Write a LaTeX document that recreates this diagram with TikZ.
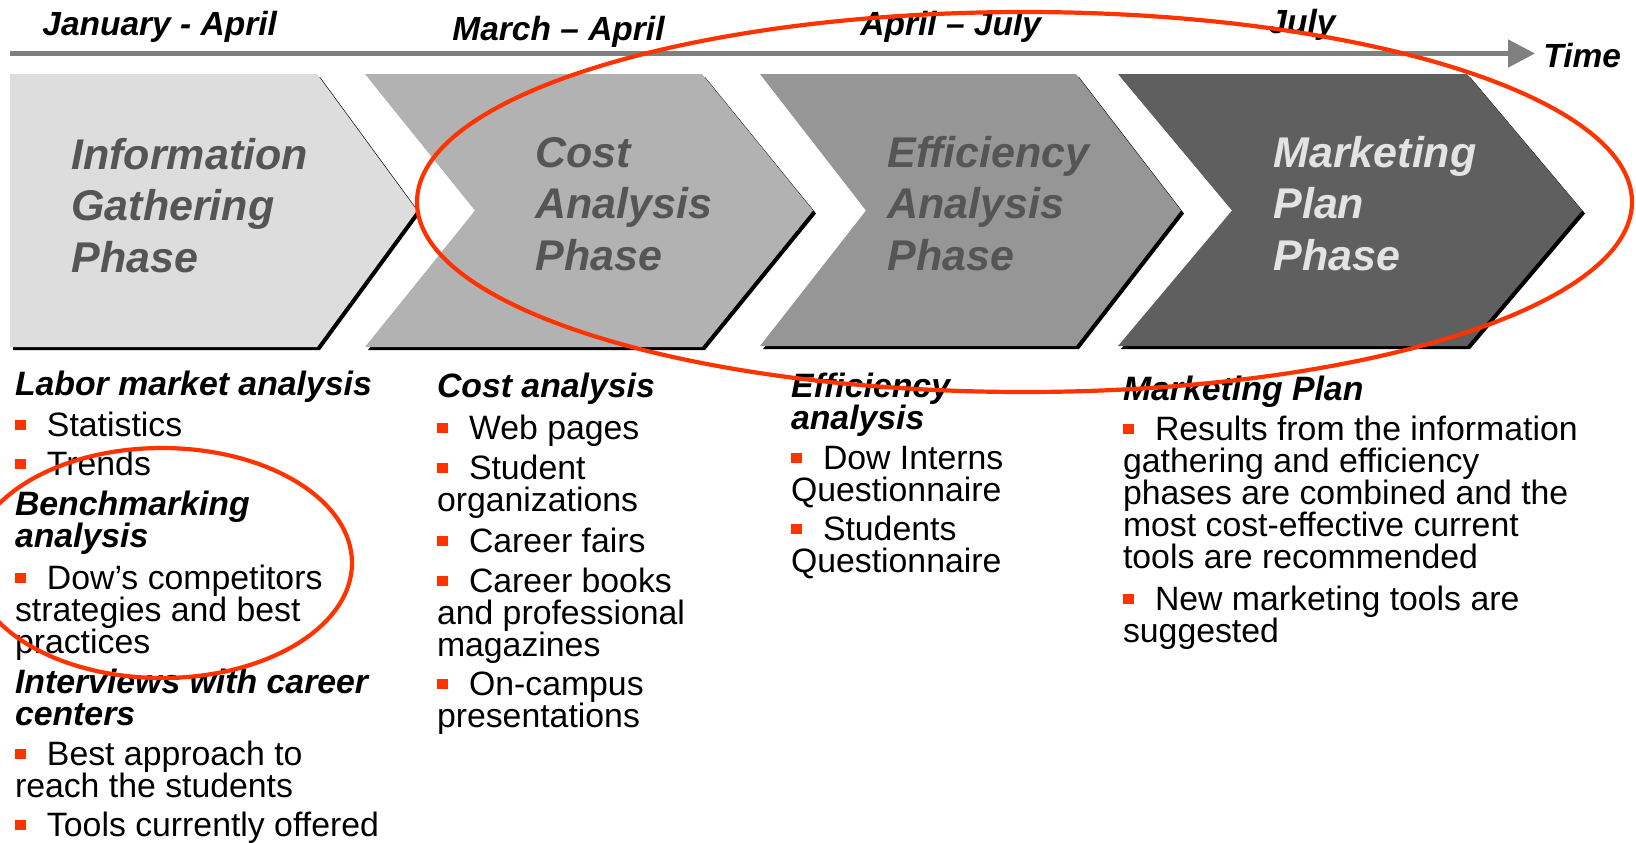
\documentclass[tikz,border=0pt]{standalone}
\usepackage{fontspec}
\setmainfont{Liberation Sans}
\usetikzlibrary{arrows.meta}
\definecolor{bred}{HTML}{FF3300}
\definecolor{tlgray}{HTML}{808080}
\definecolor{cA}{HTML}{DDDDDD}
\definecolor{cB}{HTML}{B2B2B2}
\definecolor{cC}{HTML}{969696}
\definecolor{cD}{HTML}{5F5F5F}
\definecolor{ptxt}{HTML}{555555}
\definecolor{ptxtl}{HTML}{E3E3E3}
\newcommand\bul{\makebox[16pt][l]{\textcolor{bred}{\rule[2.8pt]{5.3pt}{5.3pt}}}}
\newcommand\bodyfnt{\fontsize{16.9}{16}\selectfont}
\newcommand\txtlines[1]{\vtop{\let\\\cr\halign{##\hfil\cr#1\crcr}}}
\begin{document}
\begin{tikzpicture}[x=0.5pt,y=-0.5pt,
  bd/.style={anchor=base west,inner sep=0pt,outer sep=0pt,font=\bodyfnt,text=black},
  hd/.style={bd,font=\bodyfnt\bfseries\itshape},
  dt/.style={anchor=base west,inner sep=0pt,font=\fontsize{16.75}{20}\selectfont\bfseries\itshape},
  ph/.style={anchor=base west,inner sep=0pt,font=\fontsize{21.5}{25.75}\selectfont\bfseries\itshape,text=ptxt},
  shd/.style={fill=black,shift={(3,3)}},
  ring/.style={draw=bred,line width=2.1pt}]
\useasboundingbox (0,0) rectangle (1636,842);
\clip (0,0) rectangle (1636,842);
\fill[white] (0,0) rectangle (1636,842);

% timeline
\coordinate (tl0) at (10,53.5);
\coordinate (tl1) at (1535,53.5);
\draw[tlgray,line width=2.5pt,-{Triangle[length=13.5pt,width=13.5pt]}] (tl0) -- (tl1);

% chevron shadows
\fill[shd] (10,74) -- (317,74) -- (417,210.5) -- (317,347) -- (10,347) -- cycle;
\fill[shd] (365,74) -- (702,74) -- (813,210.5) -- (702,347) -- (365,347) -- (475,210.5) -- cycle;
\fill[shd] (760,74) -- (1076,74) -- (1181,210.5) -- (1076,346) -- (760,346) -- (866,210.5) -- cycle;
\fill[shd] (1118,74) -- (1467,74) -- (1582,210.5) -- (1467,346) -- (1118,346) -- (1232,210.5) -- cycle;
% chevrons
\fill[cA] (10,74) -- (317,74) -- (417,210.5) -- (317,347) -- (10,347) -- cycle;
\fill[cB] (365,74) -- (702,74) -- (813,210.5) -- (702,347) -- (365,347) -- (475,210.5) -- cycle;
\fill[cC] (760,74) -- (1076,74) -- (1181,210.5) -- (1076,346) -- (760,346) -- (866,210.5) -- cycle;
\fill[cD] (1118,74) -- (1467,74) -- (1582,210.5) -- (1467,346) -- (1118,346) -- (1232,210.5) -- cycle;

% dates
\node[dt] (d1) at (42,35) {January - April};
\node[dt] (d2) at (452,40) {March – April};
\node[dt] (d3) at (860,35) {April – July};
\node[dt] (d4) at (1268,33) {July};
\node[dt] (tm) at (1543,67) {Time};

% phase labels
\node[ph] (p1) at (71,169) {\txtlines{Information\\Gathering\\Phase}};
\node[ph] (p2) at (535,167) {\txtlines{Cost\\Analysis\\Phase}};
\node[ph] (p3) at (887,167) {\txtlines{Efficiency\\Analysis\\Phase}};
\node[ph,text=ptxtl] (p4) at (1273,167) {\txtlines{Marketing\\Plan\\Phase}};

% column 1
\node[hd] (a1) at (15,395) {Labor market analysis};
\node[bd] (a2) at (15,436) {\bul Statistics};
\node[bd] (a3) at (15,475) {\bul Trends};
\node[hd] (a4) at (15,515) {\txtlines{Benchmarking\\analysis}};
\node[bd] (a5) at (15,589) {\txtlines{\bul Dow’s competitors\\strategies and best\\practices}};
\node[hd] (a6) at (15,693) {\txtlines{Interviews with career\\centers}};
\node[bd] (a7) at (15,765) {\txtlines{\bul Best approach to\\reach the students}};
\node[bd] (a8) at (15,836) {\bul Tools currently offered};

% column 2
\node[hd] (b1) at (437,397) {Cost analysis};
\node[bd] (b2) at (437,439) {\bul Web pages};
\node[bd] (b3) at (437,479) {\txtlines{\bul Student\\organizations}};
\node[bd] (b4) at (437,552) {\bul Career fairs};
\node[bd] (b5) at (437,592) {\txtlines{\bul Career books\\and professional\\magazines}};
\node[bd] (b6) at (437,695) {\txtlines{\bul On-campus\\presentations}};

% column 3
\node[hd] (c1) at (791,397) {\txtlines{Efficiency\\analysis}};
\node[bd] (c2) at (791,469) {\txtlines{\bul Dow Interns\\Questionnaire}};
\node[bd] (c3) at (791,540) {\txtlines{\bul Students\\Questionnaire}};

% column 4
\node[hd] (e1) at (1123,400) {Marketing Plan};
\node[bd] (e2) at (1123,440) {\txtlines{\bul Results from the information\\gathering and efficiency\\phases are combined and the\\most cost-effective current\\tools are recommended}};
\node[bd] (e3) at (1123,610) {\txtlines{\bul New marketing tools are\\suggested}};

% red rings
\draw[ring] (1024.5,202) ellipse [x radius=303.75pt, y radius=95pt];
\draw[ring] (162,563) ellipse [x radius=95pt, y radius=57.5pt];
\end{tikzpicture}
\end{document}
